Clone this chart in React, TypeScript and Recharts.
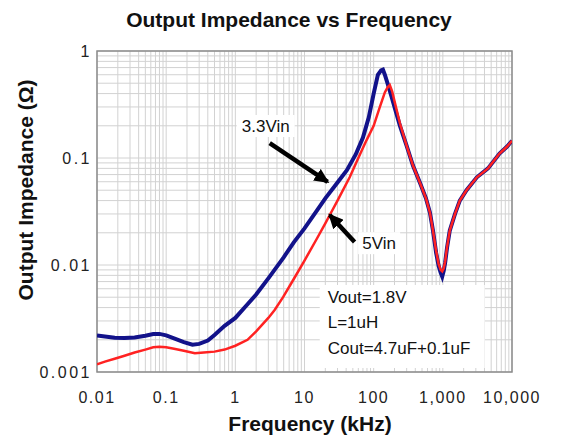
import { CartesianGrid, Label, Line, LineChart, ReferenceArea, ReferenceDot, ReferenceLine, XAxis, YAxis } from "recharts";

// 3.3Vin curve (kHz, ohm)
const freq33 = [
  0.01, 0.013, 0.018, 0.025, 0.035, 0.05, 0.065, 0.08, 0.1, 0.13, 0.18, 0.24, 0.3, 0.4, 0.5, 0.7, 1, 1.5, 2, 3, 5, 7, 10,
  15, 20, 30, 41, 55, 70, 85, 100, 115, 128, 136, 145, 160, 180, 200, 240, 300, 370, 470, 570, 650, 720, 800, 870, 930,
  980, 1030, 1080, 1150, 1260, 1500, 1760, 2200, 3100, 4500, 6600, 8500, 10000,
];
const imp33 = [
  0.0022, 0.00215, 0.00209, 0.00208, 0.0021, 0.00218, 0.00226, 0.00227, 0.0022, 0.00206, 0.0019, 0.0018, 0.00183,
  0.00197, 0.00222, 0.0027, 0.0032, 0.0043, 0.0053, 0.0075, 0.0118, 0.0163, 0.022, 0.032, 0.042, 0.059, 0.077, 0.108,
  0.155, 0.24, 0.4, 0.6, 0.66, 0.67, 0.6, 0.49, 0.38, 0.3, 0.2, 0.13, 0.085, 0.058, 0.042, 0.031, 0.021, 0.013, 0.0098,
  0.0085, 0.0078, 0.0088, 0.0105, 0.0145, 0.021, 0.03, 0.04, 0.05, 0.066, 0.08, 0.11, 0.128, 0.145,
];

// 5Vin curve
const freq5 = [
  0.01, 0.013, 0.018, 0.025, 0.035, 0.05, 0.065, 0.08, 0.1, 0.13, 0.18, 0.26, 0.35, 0.5, 0.7, 1, 1.5, 2, 3, 3.7, 4.9, 7,
  10, 15, 20, 23, 30, 45, 60, 79, 100, 123, 145, 160, 171, 185, 200, 240, 300, 370, 470, 570, 650, 720, 800, 870, 930,
  980, 1030, 1080, 1150, 1260, 1500, 1760, 2200, 3100, 4500, 6600, 8500, 10000,
];
const imp5 = [
  0.00118, 0.00125, 0.00133, 0.00142, 0.00152, 0.00162, 0.0017, 0.00172, 0.0017, 0.00165, 0.00158, 0.0015, 0.00152,
  0.00155, 0.00162, 0.00176, 0.002, 0.0024, 0.0032, 0.0038, 0.005, 0.0074, 0.011, 0.0175, 0.0245, 0.029, 0.04, 0.066,
  0.1, 0.147, 0.2, 0.3, 0.41, 0.46, 0.48, 0.42, 0.34, 0.21, 0.13, 0.085, 0.058, 0.042, 0.031, 0.021, 0.0135, 0.0102,
  0.009, 0.0087, 0.0093, 0.0108, 0.0147, 0.021, 0.03, 0.04, 0.05, 0.066, 0.08, 0.11, 0.128, 0.145,
];

const xMajor = [0.01, 0.1, 1, 10, 100, 1000, 10000];
const xLabels = ["0.01", "0.1", "1", "10", "100", "1,000", "10,000"];
const yMajor = [0.001, 0.01, 0.1, 1];
const yLabels = ["0.001", "0.01", "0.1", "1"];

const infoLines = ["Vout=1.8V", "L=1uH", "Cout=4.7uF+0.1uF"];

const data33 = freq33.map((f, i) => ({ f, z: imp33[i] }));
const data5 = freq5.map((f, i) => ({ f, z: imp5[i] }));

// log grid: 1..9 in every decade
function withMinors(majors: number[]) {
  const out: number[] = [];
  majors.forEach((m, i) => {
    if (i === majors.length - 1) {
      out.push(m);
      return;
    }
    for (let k = 1; k <= 9; k++) out.push(m * k);
  });
  return out;
}

const pick = (majors: number[], labels: string[]) => (v: number) => {
  const i = majors.findIndex((m) => Math.abs(m - v) / m < 1e-6);
  return i >= 0 ? labels[i] : "";
};

const FONT = "'Liberation Sans', Arial, Helvetica, sans-serif";
const BLUE = "#12128a";
const RED = "#ff2222";

function Tag({ cx, cy, text, w }: { cx?: number; cy?: number; text: string; w: number }) {
  if (cx == null || cy == null) return null;
  return (
    <g>
      <rect x={cx - w / 2} y={cy - 11} width={w} height={22} fill="#fff" />
      <text x={cx} y={cy} textAnchor="middle" dominantBaseline="central" fontSize={17} fontFamily={FONT} fill="#111">
        {text}
      </text>
    </g>
  );
}

function Arrow(p: any) {
  return <line x1={p.x1} y1={p.y1} x2={p.x2} y2={p.y2} stroke="#000" strokeWidth={4.5} markerEnd="url(#arrowHead)" />;
}

export default function App() {
  return (
    <div style={{ position: "absolute", left: 0, top: 0, width: 563, height: 435, background: "#fff", fontFamily: FONT }}>
      <div
        style={{
          position: "absolute",
          top: 8,
          left: 0,
          width: 578,
          textAlign: "center",
          fontSize: 21,
          fontWeight: "bold",
          color: "#111",
        }}
      >
        Output Impedance vs Frequency
      </div>
      <LineChart width={563} height={435} margin={{ top: 51, right: 51, bottom: 0, left: 0 }}>
        <defs>
          <marker id="arrowHead" markerWidth={16} markerHeight={14} refX={13} refY={7} orient="auto" markerUnits="userSpaceOnUse">
            <path d="M0,0 L15,7 L0,14 z" fill="#000" />
          </marker>
        </defs>
        <CartesianGrid stroke="#d2d2d2" strokeWidth={1} />
        <XAxis
          dataKey="f"
          type="number"
          scale="log"
          domain={[0.01, 10000]}
          allowDataOverflow
          ticks={withMinors(xMajor)}
          interval={0}
          tickFormatter={pick(xMajor, xLabels)}
          tickLine={false}
          axisLine={false}
          tickSize={6}
          tickMargin={14}
          height={63}
          tick={{ fill: "#222", fontSize: 16, fontFamily: FONT, letterSpacing: 1.5 }}
        >
          <Label
            content={() => (
              <text x={310} y={423} textAnchor="middle" dominantBaseline="central" fontSize={21} fontWeight="bold" fontFamily={FONT} fill="#111">
                Frequency (kHz)
              </text>
            )}
          />
        </XAxis>
        <YAxis
          type="number"
          scale="log"
          domain={[0.001, 1]}
          allowDataOverflow
          ticks={withMinors(yMajor)}
          interval={0}
          tickFormatter={pick(yMajor, yLabels)}
          tickLine={false}
          axisLine={false}
          tickSize={4}
          tickMargin={1}
          width={97}
          tick={{ fill: "#222", fontSize: 16, fontFamily: FONT, letterSpacing: 2.5 }}
        >
          <Label
            content={() => (
              <text
                x={25}
                y={190}
                transform="rotate(-90 25 190)"
                textAnchor="middle"
                dominantBaseline="central"
                fontSize={21}
                fontWeight="bold"
                fontFamily={FONT}
                fill="#111"
              >
                Output Impedance (Ω)
              </text>
            )}
          />
        </YAxis>
        <ReferenceArea
          x1={16.6}
          x2={4030}
          y1={0.00109}
          y2={0.0065}
          fill="#fff"
          fillOpacity={1}
          stroke="none"
          label={{
            content: (props: any) => {
              const vb = props.viewBox || {};
              return (
                <text x={(vb.x ?? 0) + 8} y={(vb.y ?? 0) + 12} fontSize={17} fontFamily={FONT} fill="#111">
                  {infoLines.map((t, i) => (
                    <tspan key={t} x={(vb.x ?? 0) + 8} y={(vb.y ?? 0) + 12 + i * 25.5} dominantBaseline="central">
                      {t}
                    </tspan>
                  ))}
                </text>
              );
            },
          }}
        />
        <ReferenceArea x1={0.01} x2={10000} y1={0.001} y2={1} fill="none" stroke="#8c8c8c" strokeWidth={1.5} />
        <Line data={data33} dataKey="z" type="linear" stroke={BLUE} strokeWidth={4} dot={false} isAnimationActive={false} />
        <Line data={data5} dataKey="z" type="linear" stroke={RED} strokeWidth={2.5} dot={false} isAnimationActive={false} />
        <ReferenceLine segment={[{ x: 3.14, y: 0.138 }, { x: 21.6, y: 0.0597 }]} shape={Arrow} />
        <ReferenceLine segment={[{ x: 53, y: 0.0164 }, { x: 23.1, y: 0.0293 }]} shape={Arrow} />
        <ReferenceDot x={2.75} y={0.199} r={0} shape={(p: any) => <Tag cx={p.cx} cy={p.cy} text="3.3Vin" w={58} />} />
        <ReferenceDot x={120} y={0.016} r={0} shape={(p: any) => <Tag cx={p.cx} cy={p.cy} text="5Vin" w={42} />} />
      </LineChart>
    </div>
  );
}
